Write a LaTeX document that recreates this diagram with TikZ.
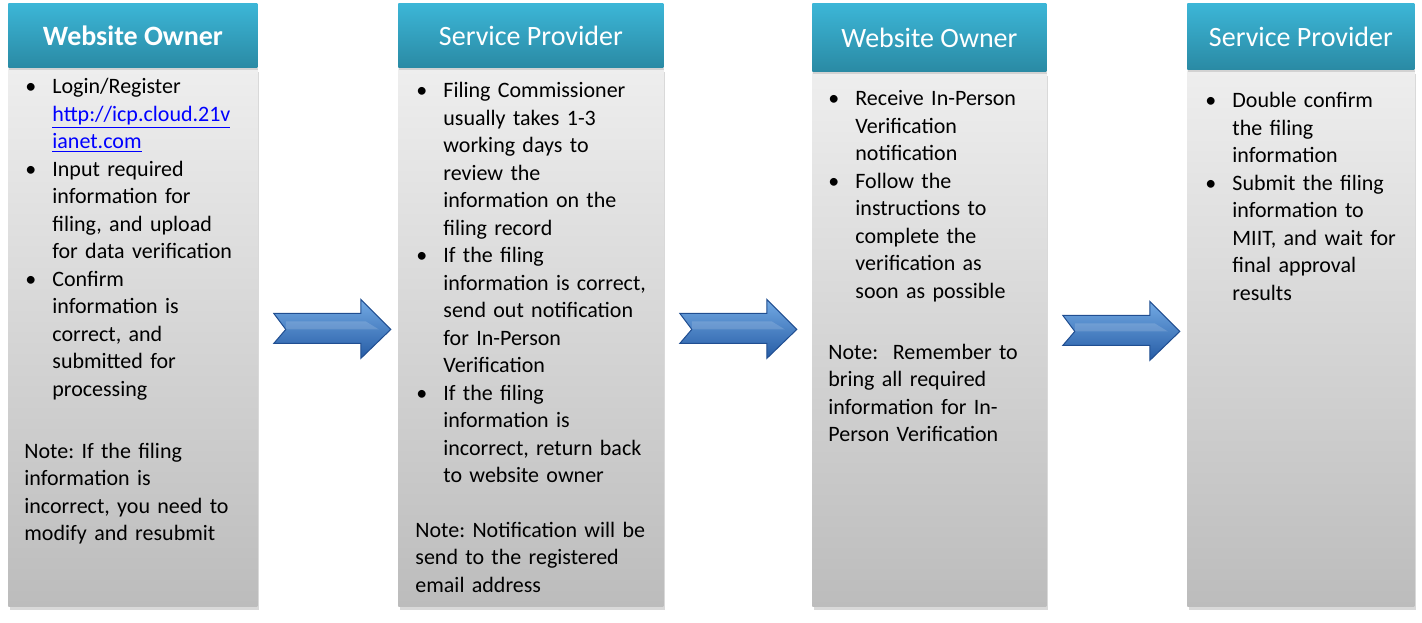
\documentclass[tikz,border=0pt]{standalone}
\usepackage{fontspec}
\setmainfont{Carlito}
\usetikzlibrary{calc,shadows}

\definecolor{headtop}{RGB}{60,182,215}
\definecolor{headbot}{RGB}{42,138,164}
\definecolor{bodytop}{RGB}{238,238,238}
\definecolor{bodybot}{RGB}{188,188,188}
\definecolor{arrowtop}{RGB}{115,170,228}
\definecolor{arrowbot}{RGB}{38,92,165}
\definecolor{arrowline}{RGB}{32,78,145}

\newcommand\weblink[1]{\textcolor{blue}{\underline{#1}}}
\newenvironment{steplist}{\begin{list}{\textbullet}{%
  \setlength\leftmargin{13.5pt}\setlength\labelwidth{13.5pt}%
  \setlength\labelsep{0pt}\setlength\itemsep{0pt}\setlength\parsep{0pt}%
  \setlength\topsep{0pt}\setlength\partopsep{0pt}%
  \renewcommand\makelabel[1]{##1\hfil}}}{\end{list}}
\frenchspacing

\begin{document}
\begin{tikzpicture}[x=0.5pt, y=-0.5pt,
  font=\fontsize{11pt}{13.75pt}\selectfont,
  bodybox/.style={rectangle, inner sep=0pt, anchor=north west, top color=bodytop, bottom color=bodybot,
    drop shadow={opacity=0.3, shadow xshift=0.6pt, shadow yshift=-1.6pt}},
  headbox/.style={rectangle, inner sep=0pt, anchor=south west, top color=headtop, bottom color=headbot,
    text=white, font=\fontsize{14pt}{17pt}\selectfont,
    drop shadow={opacity=0.25, shadow xshift=0.4pt, shadow yshift=-1.2pt}},
  itemtext/.style={anchor=base west, inner sep=0pt, text width=130pt, align=left},
  notetext/.style={anchor=base west, inner sep=0pt, text width=130pt, align=left},
  blockarrow/.style={top color=arrowtop, bottom color=arrowbot, draw=arrowline, line width=0.5pt, line join=miter}]
  \useasboundingbox (0,0) rectangle (1422,622);

  % column 1: website owner
  \node[bodybox, minimum width=124.5pt, minimum height=269pt] (ownerA) at (8,68) {};
  \node[headbox, minimum width=124.5pt, minimum height=32pt] (ownerAhead) at (ownerA.north west) {\bfseries Website Owner};
  \node[itemtext] (ownerAlist) at (25,66) {\begin{steplist}
    \item Login/Register\\ \weblink{http://icp.cloud.21v}\\ \weblink{ianet.com}
    \item Input required\\ information for\\ filing, and upload\\ for data verification
    \item Confirm\\ information is\\ correct, and\\ submitted for\\ processing
  \end{steplist}};
  \node[notetext] (ownerAnote) at (24,458) {Note: If the filing\\ information is\\ incorrect, you need to\\ modify and resubmit};

  % column 2: service provider
  \node[bodybox, minimum width=132.5pt, minimum height=269pt] (providerA) at (398,68) {};
  \node[headbox, minimum width=132.5pt, minimum height=32pt] (providerAhead) at (providerA.north west) {Service Provider};
  \node[itemtext] (providerAlist) at (416,70) {\begin{steplist}
    \item Filing Commissioner\\ usually takes 1-3\\ working days to\\ review the\\ information on the\\ filing record
    \item If the filing\\ information is correct,\\ send out notification\\ for In-Person\\ Verification
    \item If the filing\\ information is\\ incorrect, return back\\ to website owner
  \end{steplist}};
  \node[notetext] (providerAnote) at (415,537) {Note: Notification will be\\ send to the registered\\ email address};

  % column 3: website owner
  \node[bodybox, minimum width=117pt, minimum height=267pt] (ownerB) at (812,72) {};
  \node[headbox, minimum width=117pt, minimum height=34pt] (ownerBhead) at (ownerB.north west) {Website Owner};
  \node[itemtext] (ownerBlist) at (828,78) {\begin{steplist}
    \item Receive In-Person\\ Verification\\ notification
    \item Follow the\\ instructions to\\ complete the\\ verification as\\ soon as possible
  \end{steplist}};
  \node[notetext] (ownerBnote) at (828,359) {Note:\ \ Remember to\\ bring all required\\ information for In-\\ Person Verification};

  % column 4: service provider
  \node[bodybox, minimum width=113.5pt, minimum height=268pt] (providerB) at (1187,70) {};
  \node[headbox, minimum width=113.5pt, minimum height=33pt] (providerBhead) at (providerB.north west) {Service Provider};
  \node[itemtext] (providerBlist) at (1205,80) {\begin{steplist}
    \item Double confirm\\ the filing\\ information
    \item Submit the filing\\ information to\\ MIIT, and wait for\\ final approval\\ results
  \end{steplist}};

  % arrows between the columns
  \foreach \src in {ownerA, providerA, ownerB} {
    \begin{scope}[shift={($(\src.east)+(16,-8)$)}]
      \path[blockarrow] (0,-16) -- (87,-16) -- (87,-30) -- (117,0) -- (87,29) -- (87,14) -- (0,14) -- (12,0) -- cycle;
      \fill[white, opacity=0.15] (12,-8) -- (92,-8) -- (105,0) -- (12,0) -- cycle;
    \end{scope}
  }
\end{tikzpicture}
\end{document}
